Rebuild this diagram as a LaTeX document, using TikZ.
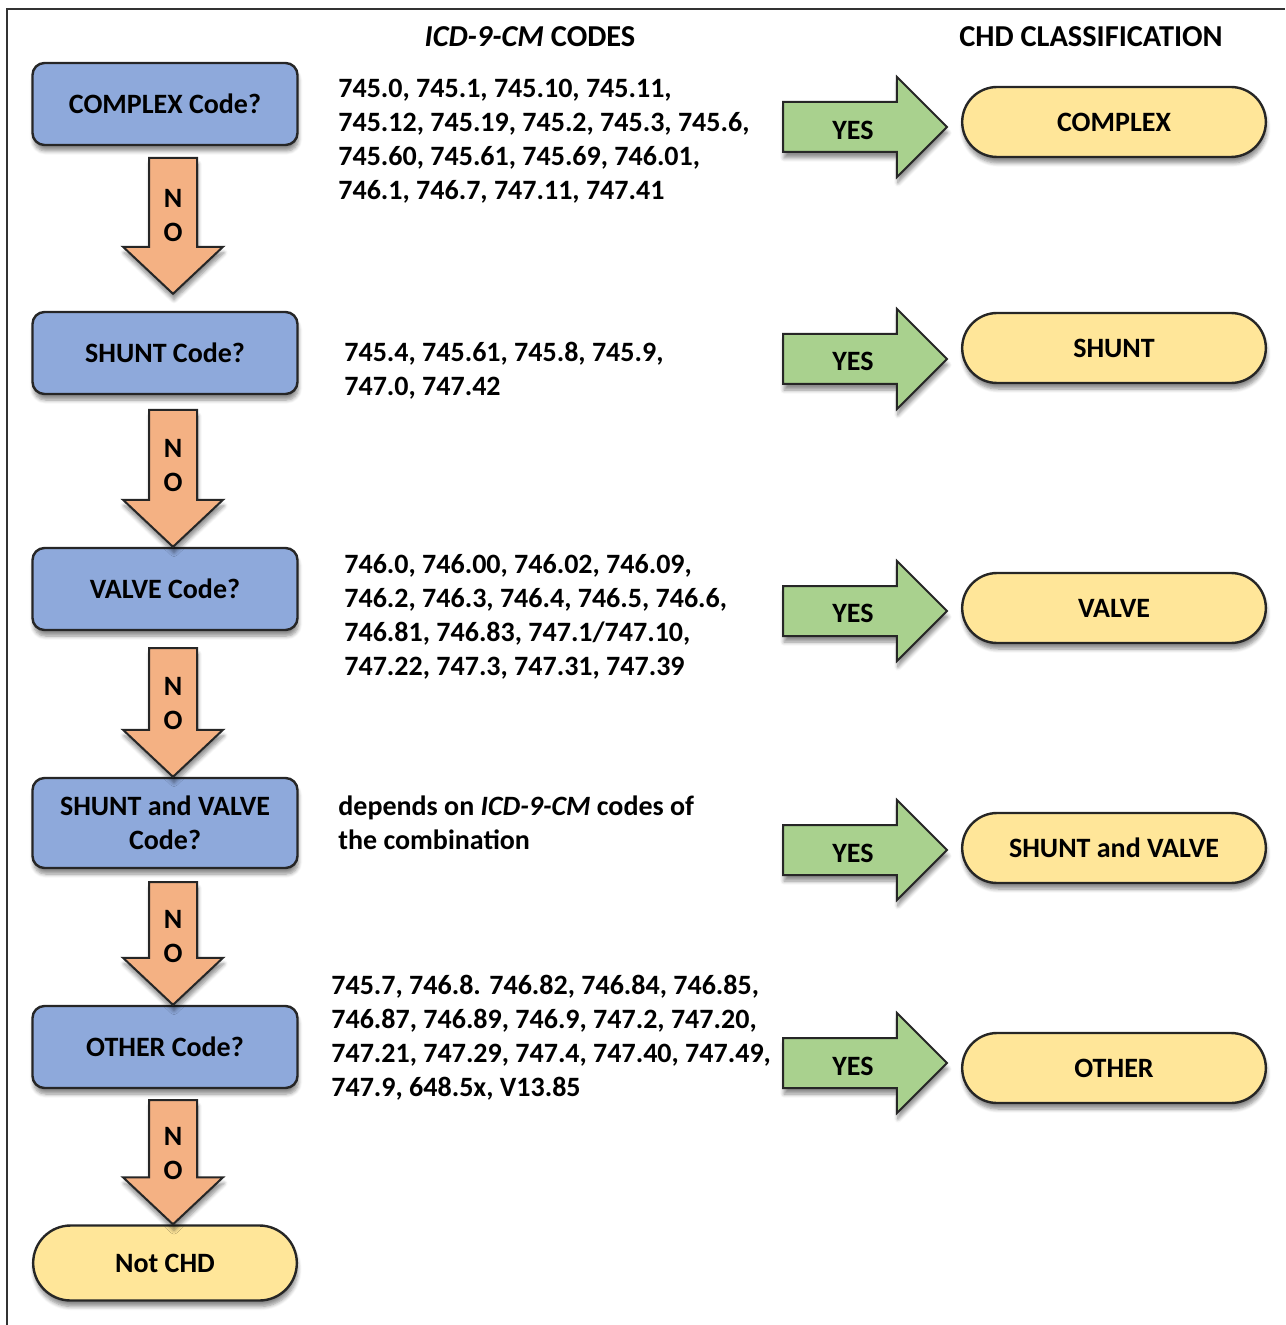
\documentclass[tikz,border=0pt]{standalone}
\usepackage{fontspec}
\setmainfont{Carlito}
\usetikzlibrary{calc,shapes.misc,shadows.blur}

\definecolor{qblue}{RGB}{142,169,219}
\definecolor{qorange}{RGB}{244,177,131}
\definecolor{qgreen}{RGB}{169,209,142}
\definecolor{qyellow}{RGB}{255,230,153}

\begin{document}
\begin{tikzpicture}[x=0.5pt,y=-0.5pt,
  font=\fontsize{14}{17}\selectfont\bfseries,
  shad/.style={blur shadow={shadow xshift=0.5pt,shadow yshift=-3pt,shadow blur steps=6,shadow opacity=45}},
  query/.style={draw=black!85, line width=1.2pt, fill=qblue, rounded corners=6pt, minimum width=132.5pt, minimum height=41pt, align=center, shad},
  result/.style={draw=black!85, line width=1.2pt, fill=qyellow, rounded rectangle, minimum width=158.5pt, minimum height=35pt, shad},
  codes/.style={anchor=north west, inner sep=0pt, align=left},
  header/.style={font=\fontsize{15.2}{18}\selectfont\bfseries},
  noarrow/.style={draw=black!85, line width=1pt, fill=qorange, shad,
    to path={let \p1=(\tikztostart), \p2=(\tikztotarget) in
      (\x1-12pt,\y1) -- (\x1+12pt,\y1) -- (\x1+12pt,\y2+23.5pt) -- (\x1+25pt,\y2+23.5pt)
      -- (\x1,\y2) -- (\x1-25pt,\y2+23.5pt) -- (\x1-12pt,\y2+23.5pt) -- cycle}},
  yesarrow/.style={draw=black!85, line width=1pt, fill=qgreen, shad,
    to path={let \p1=(\tikztostart), \p2=(\tikztotarget) in
      (\x1,\y1+12.5pt) -- (\x2-32pt,\y1+12.5pt) -- (\x2-32pt,\y1+25pt) -- (\x2-7pt,\y1)
      -- (\x2-32pt,\y1-25pt) -- (\x2-32pt,\y1-12.5pt) -- (\x1,\y1-12.5pt) -- cycle}},
  lbl/.style={align=center, inner sep=0pt}
]
  \useasboundingbox (0,0) rectangle (1285,1325);
  \draw[line width=1pt, black!80] (7,1325) -- (7,9) -- (1285,9);

  % headers
  \node[header] (hcodes) at (530,37) {\textit{ICD-9-CM} CODES};
  \node[header] (hclass) at (1091,37) {CHD CLASSIFICATION};

  % questions
  \node[query] (qcomplex) at (165,104) {COMPLEX Code?};
  \node[query] (qshunt) at (165,353) {SHUNT Code?};
  \node[query] (qvalve) at (165,589) {VALVE Code?};
  \node[query, minimum height=45pt] (qsv) at (165,823) {SHUNT and VALVE\\Code?};
  \node[query] (qother) at (165,1047) {OTHER Code?};
  \node[result, minimum width=138.5pt, minimum height=37.5pt] (notchd) at (165,1263) {Not CHD};

  % classifications
  \node[result] (complex) at (1114,122) {COMPLEX};
  \node[result] (shunt) at (1114,348) {SHUNT};
  \node[result] (valve) at (1114,608) {VALVE};
  \node[result] (sv) at (1114,848) {SHUNT and VALVE};
  \node[result] (other) at (1114,1068) {OTHER};

  % code lists
  \node[codes] (ccomplex) at (338,79) {745.0, 745.1, 745.10, 745.11,\\745.12, 745.19, 745.2, 745.3, 745.6,\\745.60, 745.61, 745.69, 746.01,\\746.1, 746.7, 747.11, 747.41};
  \node[codes] (cshunt) at (344,342) {745.4, 745.61, 745.8, 745.9,\\747.0, 747.42};
  \node[codes] (cvalve) at (344,554) {746.0, 746.00, 746.02, 746.09,\\746.2, 746.3, 746.4, 746.5, 746.6,\\746.81, 746.83, 747.1/747.10,\\747.22, 747.3, 747.31, 747.39};
  \node[codes] (csv) at (338,795) {depends on \textit{ICD-9-CM} codes of\\the combination};
  \node[codes] (cother) at (331,975) {745.7, 746.8. 746.82, 746.84, 746.85,\\746.87, 746.89, 746.9, 747.2, 747.20,\\747.21, 747.29, 747.4, 747.40, 747.49,\\747.9, 648.5x, V13.85};

  % NO arrows
  \coordinate (n1) at (173,158);
  \coordinate (n2) at (173,410);
  \coordinate (n3) at (173,648);
  \coordinate (n4) at (173,882);
  \coordinate (n5) at (173,1100);
  \draw[noarrow] (n1) to ($(qshunt.north)+(0,-17)$);
  \draw[noarrow] (n2) to (qvalve.north);
  \draw[noarrow] (n3) to (qsv.north);
  \draw[noarrow] (n4) to (qother.north);
  \draw[noarrow] (n5) to (notchd.north);
  \node[lbl] (no1) at ($(n1)+(0,58)$) {N\\O};
  \node[lbl] (no2) at ($(n2)+(0,56)$) {N\\O};
  \node[lbl] (no3) at ($(n3)+(0,56)$) {N\\O};
  \node[lbl] (no4) at ($(n4)+(0,55)$) {N\\O};
  \node[lbl] (no5) at ($(n5)+(0,54)$) {N\\O};

  % YES arrows
  \coordinate (y1) at (783,127);
  \coordinate (y2) at (783,359);
  \coordinate (y3) at (783,611);
  \coordinate (y4) at (783,850);
  \coordinate (y5) at (783,1063);
  \draw[yesarrow] (y1) to (complex.west);
  \draw[yesarrow] (y2) to (shunt.west);
  \draw[yesarrow] (y3) to (valve.west);
  \draw[yesarrow] (y4) to (sv.west);
  \draw[yesarrow] (y5) to (other.west);
  \node (yes1) at ($(y1)+(70,3)$) {YES};
  \node (yes2) at ($(y2)+(70,2)$) {YES};
  \node (yes3) at ($(y3)+(70,2)$) {YES};
  \node (yes4) at ($(y4)+(70,3)$) {YES};
  \node (yes5) at ($(y5)+(70,3)$) {YES};
\end{tikzpicture}
\end{document}
